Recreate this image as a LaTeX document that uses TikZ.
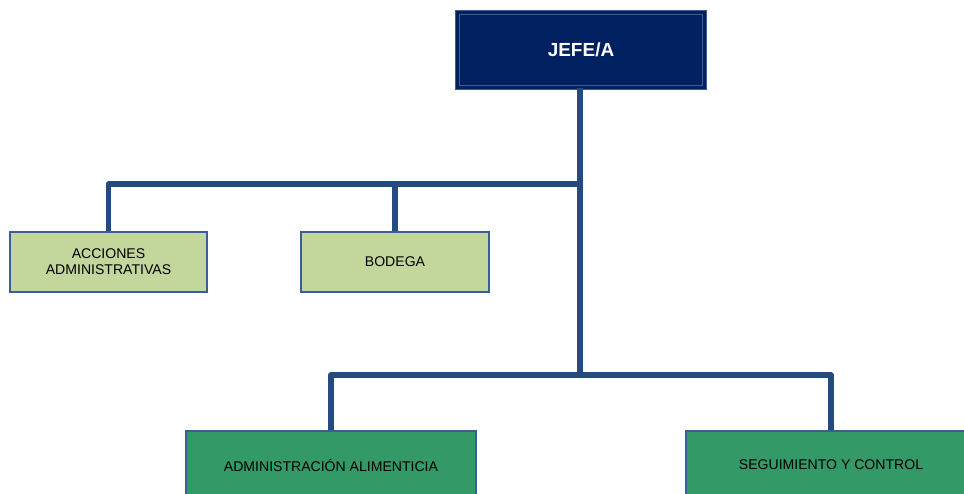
\documentclass[tikz,border=0pt]{standalone}
\usepackage{fontspec}
\setmainfont{Liberation Sans}
\usepackage{tikz}

\definecolor{navybox}{HTML}{002060}
\definecolor{edgeblue}{HTML}{3A5F96}
\definecolor{linkblue}{HTML}{244A7E}
\definecolor{lightgreen}{HTML}{C3D69B}
\definecolor{darkgreen}{HTML}{339966}

\tikzset{
  unit/.style = {draw=edgeblue, line width=0.8pt, inner sep=0pt, align=center,
                 font=\fontsize{10}{11.5}\selectfont},
  leaf/.style = {unit, fill=lightgreen},
  dept/.style = {unit, fill=darkgreen},
  link/.style = {draw=linkblue, line width=3.6pt, line join=round}
}

\begin{document}
\begin{tikzpicture}[x=0.025cm, y=-0.025cm]
\useasboundingbox (0,0) rectangle (964,493);
\clip (0,0) rectangle (964,493);

% boxes
\node[draw=edgeblue, double=navybox, double distance=2.4pt, line width=0.7pt, fill=navybox,
      minimum width=247*0.025cm, minimum height=75*0.025cm, text=white,
      font=\bfseries\fontsize{13.5}{15}\selectfont] (jefe) at (581,50) {JEFE/A};
\node[leaf, minimum width=197*0.025cm, minimum height=60*0.025cm] (acciones) at (108.5,262) {ACCIONES\\ADMINISTRATIVAS};
\node[leaf, minimum width=188*0.025cm, minimum height=60*0.025cm] (bodega) at (395,262) {BODEGA};
\node[dept, minimum width=290*0.025cm, minimum height=68*0.025cm] (admin) at (331,465) {ADMINISTRACIÓN ALIMENTICIA};
\node[dept, minimum width=290*0.025cm, minimum height=68*0.025cm] (seguim) at (831,465) {SEGUIMIENTO Y CONTROL};

% connectors
\coordinate (upper) at (580,184);
\coordinate (lower) at (580,375);
\draw[link] (jefe.south -| lower) -- (lower);
\draw[link] (upper) -| (acciones.north);
\draw[link] (upper) -| (bodega.north);
\draw[link] (lower) -| (admin.north);
\draw[link] (lower) -| (seguim.north);
\end{tikzpicture}
\end{document}
